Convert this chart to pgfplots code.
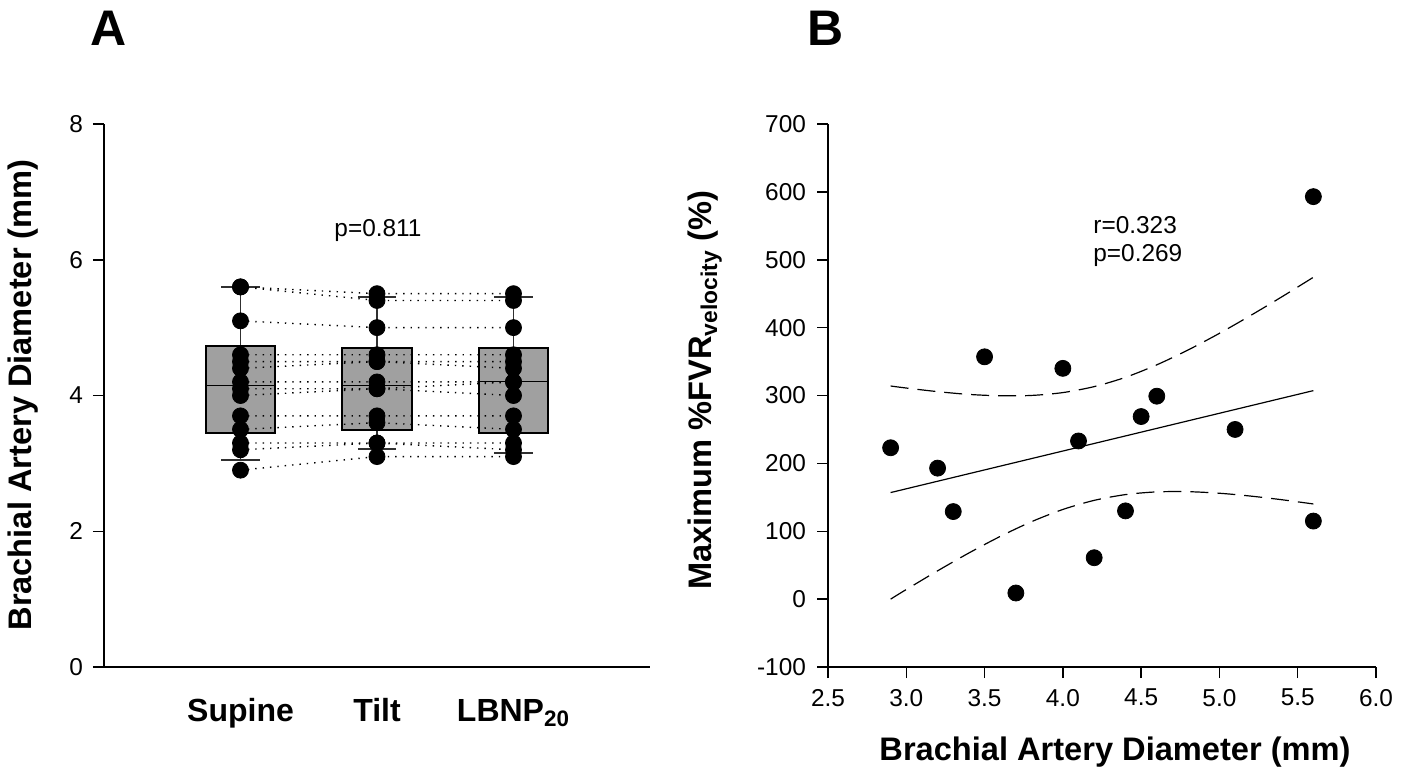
\documentclass[border=0pt]{standalone}
\usepackage{fontspec}
\setmainfont{Liberation Sans}
\usepackage{pgfplots}
\pgfplotsset{compat=1.18}
\usepgfplotslibrary{statistics}
\definecolor{boxgray}{HTML}{A0A0A0}
\definecolor{axgray}{HTML}{303030}
\newcommand{\tl}{\fontsize{12.2}{14}\selectfont}
\newcommand{\bl}{\fontsize{16.3}{19}\selectfont\bfseries}
\pgfplotsset{
  common/.style={
    scale only axis,
    axis x line*=bottom, axis y line*=left,
    axis line style={line width=0.75pt, black},
    tick align=outside, major tick length=5.5pt,
    tick style={line width=0.75pt, black},
    tick label style={font=\tl},
    /pgf/number format/assume math mode=true,
    clip=false,
  },
  dotl/.style={black, line width=0.7pt, dash pattern=on 0.7pt off 3pt},
  dotm/.style={only marks, mark=*, mark size=4pt, mark options={draw=black, fill=black}},
}
\begin{document}
\begin{tikzpicture}
\path[use as bounding box] (0,0) rectangle (702.5pt,386.5pt);
% ---------------- Panel A ----------------
\begin{axis}[common,
  at={(52pt,53pt)}, anchor=south west,
  width=273pt, height=271.5pt,
  xmin=0, xmax=4, ymin=0, ymax=8,
  unbounded coords=jump,
  ytick={0,2,4,6,8}, yticklabels={0,2,4,6,8},
  xtick={1,2,3}, xticklabels={Supine,Tilt,LBNP\textsubscript{20}},
  x tick style={draw=none},
  xticklabel style={font=\fontsize{16}{19}\selectfont\bfseries, anchor=base, yshift=-21.5pt},
  yticklabel style={xshift=-1.5pt},
  boxplot/draw direction=y,
  boxplot/every box/.style={draw=black, line width=0.9pt, fill=boxgray},
  boxplot/every whisker/.style={draw=axgray, line width=0.8pt},
  boxplot/every median/.style={draw=black, line width=0.5pt},
]
\addplot[boxplot prepared={draw position=1, median=4.15, upper quartile=4.73, lower quartile=3.45, upper whisker=5.6, lower whisker=3.05, box extend=0.51, whisker extend=0.28}] coordinates {};
\addplot[boxplot prepared={draw position=2, median=4.15, upper quartile=4.70, lower quartile=3.49, upper whisker=5.45, lower whisker=3.21, box extend=0.51, whisker extend=0.28}] coordinates {};
\addplot[boxplot prepared={draw position=3, median=4.20, upper quartile=4.70, lower quartile=3.45, upper whisker=5.45, lower whisker=3.15, box extend=0.51, whisker extend=0.28}] coordinates {};
% paired subject lines
\addplot[dotl] coordinates {
 (1,5.6)(2,5.5)(3,5.5) (1,nan)
 (1,5.6)(2,5.4)(3,5.4) (1,nan)
 (1,5.1)(2,5.0)(3,5.0) (1,nan)
 (1,4.6)(2,4.6)(3,4.6) (1,nan)
 (1,4.5)(2,4.5)(3,4.5) (1,nan)
 (1,4.4)(2,4.5)(3,4.4) (1,nan)
 (1,4.2)(2,4.2)(3,4.2) (1,nan)
 (1,4.1)(2,4.1)(3,4.2) (1,nan)
 (1,4.0)(2,4.1)(3,4.0) (1,nan)
 (1,3.7)(2,3.7)(3,3.7) (1,nan)
 (1,3.5)(2,3.6)(3,3.5) (1,nan)
 (1,3.3)(2,3.3)(3,3.3) (1,nan)
 (1,3.2)(2,3.3)(3,3.2) (1,nan)
 (1,2.9)(2,3.1)(3,3.1)
};
\addplot[dotm] coordinates {(1,5.6)(1,5.6)(1,5.1)(1,4.6)(1,4.5)(1,4.4)(1,4.2)(1,4.1)(1,4.0)(1,3.7)(1,3.5)(1,3.3)(1,3.2)(1,2.9)};
\addplot[dotm] coordinates {(2,5.5)(2,5.4)(2,5.0)(2,4.6)(2,4.5)(2,4.5)(2,4.2)(2,4.1)(2,4.1)(2,3.7)(2,3.6)(2,3.3)(2,3.3)(2,3.1)};
\addplot[dotm] coordinates {(3,5.5)(3,5.4)(3,5.0)(3,4.6)(3,4.5)(3,4.4)(3,4.2)(3,4.2)(3,4.0)(3,3.7)(3,3.5)(3,3.3)(3,3.2)(3,3.1)};
\end{axis}
% ---------------- Panel B ----------------
\begin{axis}[common,
  at={(414pt,53pt)}, anchor=south west,
  width=274pt, height=271.5pt,
  xmin=2.5, xmax=6.0, ymin=-100, ymax=700,
  xtick={2.5,3.0,3.5,4.0,4.5,5.0,5.5,6.0},
  xticklabels={2.5,3.0,3.5,4.0,4.5,5.0,5.5,6.0},
  ytick={-100,0,100,200,300,400,500,600,700},
  yticklabels={-100,0,100,200,300,400,500,600,700},
  yticklabel style={xshift=-2pt},
  xticklabel style={yshift=-2pt},
]
% confidence band
\addplot[black, line width=0.6pt, dash pattern=on 9pt off 4.5pt, smooth] coordinates {
 (2.9,314.0)(3.0,311.0)(3.2,305.7)(3.4,301.6)(3.6,299.6)(3.8,300.1)(4.0,304.3)(4.2,313.1)
 (4.4,326.8)(4.6,345.2)(4.8,367.1)(5.0,391.6)(5.2,418.0)(5.4,445.6)(5.6,474.2)};
\addplot[black, line width=0.6pt, dash pattern=on 9pt off 4.5pt, smooth] coordinates {
 (2.9,0.0)(3.0,14.2)(3.2,41.7)(3.4,68.0)(3.6,92.4)(3.8,114.1)(4.0,132.1)(4.2,145.5)
 (4.4,154.0)(4.6,158.0)(4.8,158.3)(5.0,156.0)(5.2,151.8)(5.4,146.4)(5.6,140.2)};
% regression line
\addplot[black, line width=0.6pt] coordinates {(2.9,157.0)(5.6,307.2)};
% data
\addplot[dotm] coordinates {
 (2.9,223)(3.2,193)(3.3,129)(3.5,357)(3.7,9)(4.0,340)(4.1,233)
 (4.2,61)(4.4,130)(4.5,269)(4.6,299)(5.1,250)(5.6,115)(5.6,593)};
\end{axis}
% ---------------- texts ----------------
\node[font=\fontsize{25}{30}\selectfont\bfseries] at (54.5pt,372.25pt) {A};
\node[font=\fontsize{25}{30}\selectfont\bfseries] at (413pt,372.25pt) {B};
\node[font=\bl, rotate=90] at (11.5pt,189pt) {Brachial Artery Diameter (mm)};
\node[font=\bl, rotate=90] at (352.5pt,191.5pt) {Maximum \%FVR\textsubscript{velocity} (\%)};
\node[font=\bl] at (557.5pt,10.5pt) {Brachial Artery Diameter (mm)};
\node[font=\tl] at (189pt,271pt) {p=0.811};
\node[font=\tl, anchor=base west, inner sep=0pt] at (546.5pt,269.5pt) {r=0.323};
\node[font=\tl, anchor=base west, inner sep=0pt] at (546.5pt,255.5pt) {p=0.269};
\end{tikzpicture}
\end{document}
